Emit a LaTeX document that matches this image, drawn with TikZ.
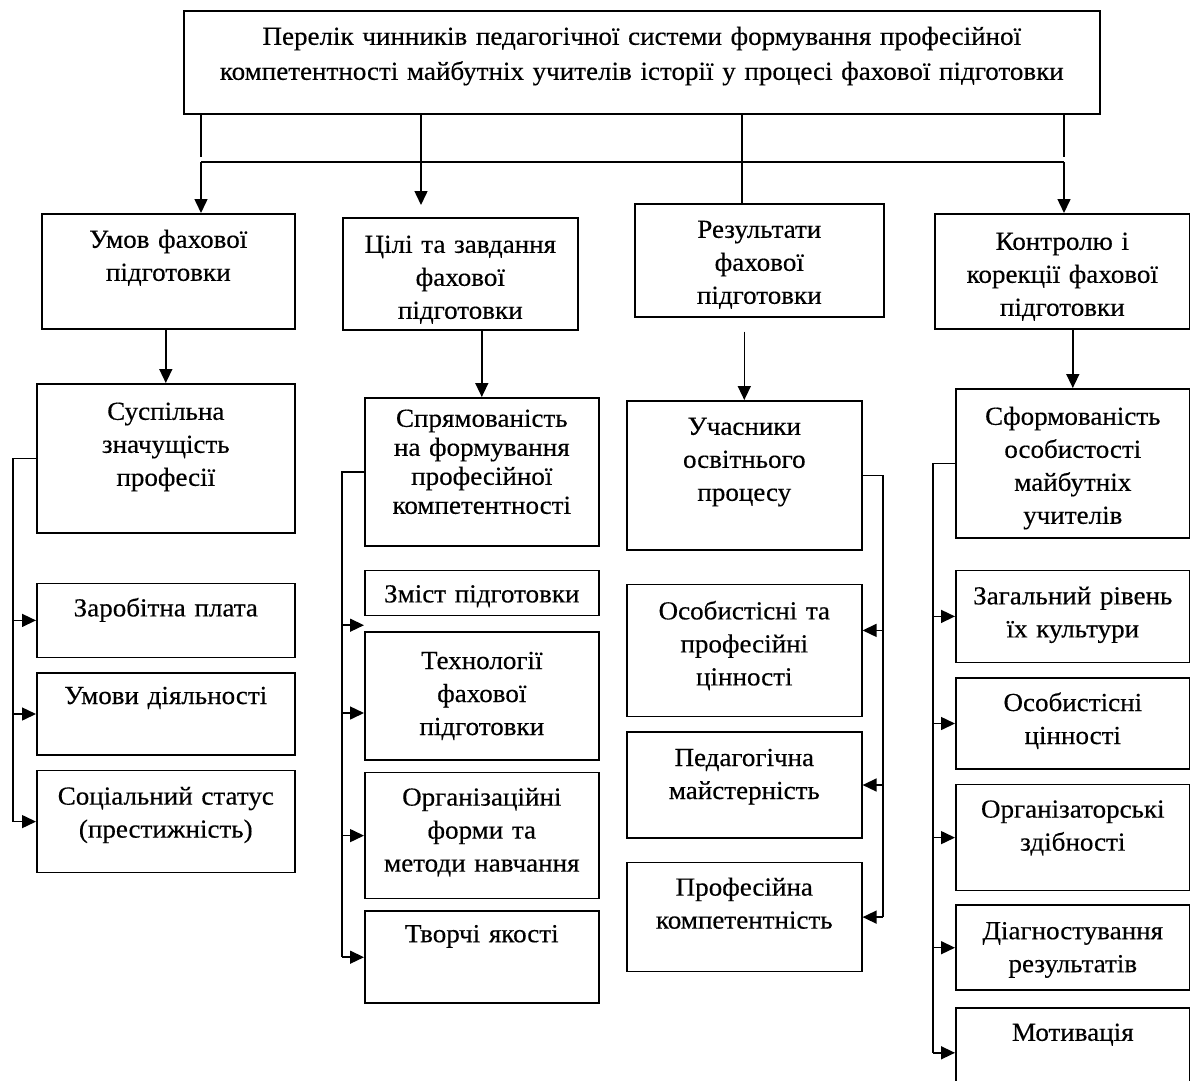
\documentclass[tikz,border=0pt]{standalone}
\usepackage{fontspec}
\setmainfont{Liberation Serif}[FakeStretch=1.04, FakeBold=0.4]
\usetikzlibrary{positioning,arrows.meta}

\begin{document}
\begin{tikzpicture}[x=1pt, y=-1pt,
	box/.style={draw, line width=1.6pt, align=center, inner xsep=4pt, inner ysep=0pt, anchor=north west, font=\fontsize{26}{33}\selectfont},
	conn/.style={line width=1.5pt},
	arr/.style={line width=1.5pt, -{Triangle[length=14pt, width=13pt]}}]

	\useasboundingbox (0,0) rectangle (1190,1080);

	\node[box, text width=908pt, text height=34pt, text depth=69pt, font=\fontsize{26}{35}\selectfont] (top) at (183,10) {Перелік чинників педагогічної системи формування професійної\\компетентності майбутніх учителів історії у процесі фахової підготовки};

	\node[box, text width=245pt, text height=34pt, text depth=81pt] (umov) at (41,213) {Умов фахової\\підготовки};
	\node[box, text width=227pt, text height=35pt, text depth=77pt] (cili) at (342,217) {Цілі та завдання\\фахової\\підготовки};
	\node[box, text width=241pt, text height=34pt, text depth=79pt] (rez) at (634,203) {Результати\\фахової\\підготовки};
	\node[box, text width=247pt, text height=36pt, text depth=79pt] (kontr) at (934,213) {Контролю і\\корекції фахової\\підготовки};

	\node[box, text width=250pt, text height=36pt, text depth=113pt] (susp) at (36,383) {Суспільна\\значущість\\професії};
	\node[box, text width=226pt, text height=29pt, text depth=119pt, font=\fontsize{26}{29}\selectfont] (spr) at (364,397) {Спрямованість\\на формування\\професійної\\компетентності};
	\node[box, text width=227pt, text height=34pt, text depth=115pt] (uch) at (626,400) {Учасники\\освітнього\\процесу};
	\node[box, text width=226pt, text height=36pt, text depth=113pt] (sform) at (955,388) {Сформованість\\особистості\\майбутніх\\учителів};

	\node[box, text width=250pt, text height=33pt, text depth=41pt, below=49pt of susp] (zar) {Заробітна плата};
	\node[box, text width=250pt, text height=31pt, text depth=51pt, below=14pt of zar] (umdi) {Умови діяльності};
	\node[box, text width=250pt, text height=34pt, text depth=68pt, below=14pt of umdi] (soc) {Соціальний статус\\(престижність)};

	\node[box, text width=226pt, text height=32pt, text depth=13pt, below=23pt of spr] (zmist) {Зміст підготовки};
	\node[box, text width=226pt, text height=37pt, text depth=91pt, below=15pt of zmist] (tech) {Технології\\фахової\\підготовки};
	\node[box, text width=226pt, text height=33pt, text depth=93pt, below=11pt of tech] (org) {Організаційні\\форми та\\методи навчання};
	\node[box, text width=226pt, text height=31pt, text depth=61pt, below=11pt of org] (tvor) {Творчі якості};

	\node[box, text width=227pt, text height=35pt, text depth=97pt, below=33pt of uch] (osob) {Особистісні та\\професійні\\цінності};
	\node[box, text width=227pt, text height=34pt, text depth=72pt, below=14pt of osob] (ped) {Педагогічна\\майстерність};
	\node[box, text width=227pt, text height=33pt, text depth=76pt, below=23pt of ped] (prof) {Професійна\\компетентність};

	\node[box, text width=226pt, text height=34pt, text depth=58pt, below=31pt of sform] (zag) {Загальний рівень\\їх культури};
	\node[box, text width=226pt, text height=33pt, text depth=58pt, below=14pt of zag] (osobc) {Особистісні\\цінності};
	\node[box, text width=226pt, text height=33pt, text depth=73pt, below=14pt of osobc] (orgz) {Організаторські\\здібності};
	\node[box, text width=226pt, text height=34pt, text depth=51pt, below=13pt of orgz] (diag) {Діагностування\\результатів};
	\node[box, text width=226pt, text height=33pt, text depth=57pt, below=16pt of diag] (motiv) {Мотивація};

	\coordinate (h1) at (201,162);
	\coordinate (h2) at (421,162);
	\coordinate (h3) at (742,162);
	\coordinate (h4) at (1064,162);
	\coordinate (v1) at (13,0);
	\coordinate (v2) at (342,0);
	\coordinate (v3) at (883,0);
	\coordinate (v4) at (933,0);

	\draw[conn] (top.south -| h1) -- ([yshift=5pt]h1);
	\draw[conn] (top.south -| h4) -- ([yshift=5pt]h4);
	\draw[conn] (h1) -- (h4);
	\draw[arr] (h1) -- (umov.north -| h1);
	\draw[arr] (top.south -| h2) -- ([yshift=12pt]cili.north -| h2);
	\draw[conn] (top.south -| h3) -- (rez.north -| h3);
	\draw[arr] (h4) -- (kontr.north -| h4);

	\draw[arr] (umov.south -| susp.north) -- (susp.north);
	\draw[arr] (cili.south -| spr.north) -- (spr.north);
	\draw[arr] ([yshift=-14pt]rez.south -| uch.north) -- (uch.north);
	\draw[arr] (kontr.south -| sform.north) -- (sform.north);

	\draw[conn] (susp.west) -- (susp.west -| v1) -- (soc.west -| v1);
	\foreach \n in {zar,umdi,soc}
		\draw[arr] (\n.west -| v1) -- (\n.west);

	\draw[conn] (spr.west) -- (spr.west -| v2) -- (tvor.west -| v2);
	\draw[arr] ([yshift=-9pt]zmist.south west -| v2) -- ([yshift=-9pt]zmist.south west);
	\draw[arr] ([yshift=-17pt]tech.west -| v2) -- ([yshift=-17pt]tech.west);
	\foreach \n in {org,tvor}
		\draw[arr] (\n.west -| v2) -- (\n.west);

	\draw[conn] (uch.east) -- (uch.east -| v3) -- (prof.east -| v3);
	\draw[arr] ([yshift=20pt]osob.east -| v3) -- ([yshift=20pt]osob.east);
	\foreach \n in {ped,prof}
		\draw[arr] (\n.east -| v3) -- (\n.east);

	\draw[conn] (sform.west) -- (sform.west -| v4) -- (motiv.west -| v4);
	\foreach \n in {zag,osobc,orgz,diag,motiv}
		\draw[arr] (\n.west -| v4) -- (\n.west);

\end{tikzpicture}
\end{document}
